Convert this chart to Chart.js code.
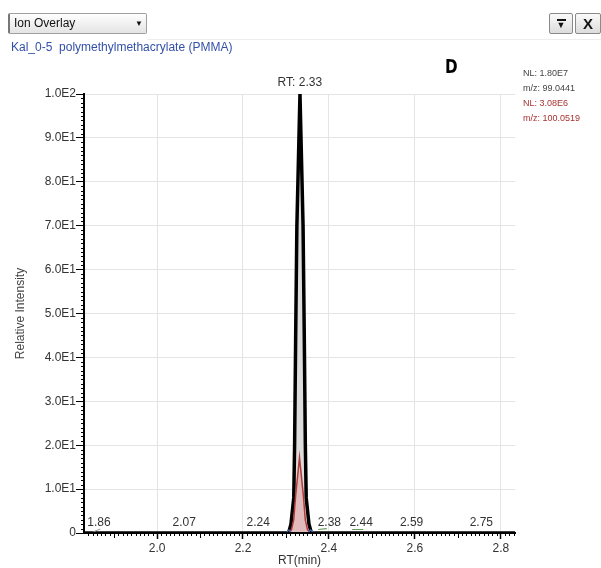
<!DOCTYPE html>
<html><head><meta charset="utf-8">
<script src="https://cdn.jsdelivr.net/npm/chart.js@4/dist/chart.umd.min.js"></script>
<style>
html,body{margin:0;padding:0;background:#fff;width:601px;height:568px;overflow:hidden;font-family:"Liberation Sans",Arial,sans-serif;}
#wrap{position:relative;width:601px;height:568px;}
#c{position:absolute;left:0;top:0;}
#dd{position:absolute;left:8px;top:13px;width:139px;height:21px;box-sizing:border-box;border:1px solid #a0a0a0;border-left:2px solid #777;border-radius:2px;background:linear-gradient(#fefefe,#e4e4e4);font-size:12px;line-height:19px;padding-left:4px;color:#111;}
#dd .arr{position:absolute;left:125px;top:0;font-size:8px;}
#sep{position:absolute;left:148px;top:39px;width:453px;height:1px;background:#eeeeee;}
#sub{position:absolute;left:11px;top:40px;font-size:12px;color:#3350a8;white-space:pre;}
.btn{position:absolute;top:13px;height:21px;box-sizing:border-box;border:1px solid #8a8a8a;border-radius:2px;background:linear-gradient(#fafafa,#dcdcdc);text-align:center;color:#111;}
#b1{left:549px;width:24px;}
#b2{left:575px;width:26px;font-weight:bold;font-size:15px;line-height:19px;}
#b1 .bar{position:absolute;left:7px;top:5px;width:9px;height:2px;background:#111;}
#b1 .tri{position:absolute;left:0;width:22px;top:6px;font-size:9px;line-height:10px;}
#D{position:absolute;left:445px;top:55px;font-family:"DejaVu Sans",sans-serif;font-weight:900;font-size:20px;line-height:22px;color:#000;transform:scaleX(0.76);transform-origin:0 0;}
.nl{position:absolute;left:523px;font-size:9px;line-height:11px;white-space:pre;}
</style></head><body>
<div id="wrap">
<canvas id="c" width="601" height="568"></canvas>
<div id="dd">Ion Overlay<span class="arr">▼</span></div>
<div id="sep"></div>
<div id="sub">Kal_0-5  polymethylmethacrylate (PMMA)</div>
<div class="btn" id="b1"><div class="bar"></div><div class="tri">▼</div></div>
<div class="btn" id="b2">X</div>
<div id="D">D</div>
<div class="nl" style="top:68px;color:#444;">NL: 1.80E7</div>
<div class="nl" style="top:83px;color:#444;">m/z: 99.0441</div>
<div class="nl" style="top:98px;color:#a83232;">NL: 3.08E6</div>
<div class="nl" style="top:113px;color:#a83232;">m/z: 100.0519</div>
</div>
<script>
// ---- data ----
const blackRT  = [1.830, 2.300, 2.306, 2.3116, 2.3181, 2.3201, 2.3226, 2.3254, 2.3326, 2.3398, 2.3426, 2.3451, 2.3471, 2.3536, 2.3593, 2.833];
const blackInt = [0,     0,     0,     2,      8,      20,     45,     70,     100,    70,     45,     20,     8,      2,      0,      0];
const redRT    = [2.300, 2.307, 2.313, 2.318, 2.3225, 2.3315, 2.3405, 2.345, 2.350, 2.356, 2.362];
const redInt   = [0,     0,     0.8,   3,     8.5,    17.2,   8.5,    3,     0.8,   0,     0];
const blueRT   = [2.302, 2.307, 2.312, null, 2.352, 2.357, 2.363];
const blueInt  = [0.2,   0.7,   0.2,   null, 0.2,   0.7,   0.2];
const greenRT  = [2.375, 2.395, null, 2.454, 2.480];
const greenInt = [0.8,   1.0,   null, 0.8,   0.8];
const grayRT   = [1.852, 1.868];
const grayInt  = [0.3,   0.9];
const xTickValues = [2.0, 2.2, 2.4, 2.6, 2.8];
const yTickValues = [0, 10, 20, 30, 40, 50, 60, 70, 80, 90, 100];
const peakLabelText = ['1.86', '2.07', '2.24', 'RT: 2.33', '2.38', '2.44', '2.59', '2.75'];
const peakLabelRT   = [1.86, 2.07, 2.24, 2.33, 2.38, 2.44, 2.59, 2.75];
const peakLabelInt  = [0, 0, 0, 100, 0, 0, 0, 0];
// label style offsets (pixels)
const peakLabelDx   = [2, -3, -2, 1, 9, 15, 1, 2];

const pts = (xs, ys) => xs.map((x, i) => ({x: x, y: ys[i]}));

Chart.defaults.font.family = '"Liberation Sans", Arial, sans-serif';
Chart.defaults.font.size = 12;
Chart.defaults.color = '#333';

const extras = {
  id: 'extras',
  afterDraw(chart) {
    const ctx = chart.ctx, xs = chart.scales.x, ys = chart.scales.y;
    const ca = chart.chartArea;
    ctx.save();
    ctx.strokeStyle = '#000';
    ctx.lineWidth = 1;
    for (let i = 184; i <= 283; i++) {
      const v = i / 100;
      if (i % 20 === 0) continue;
      const len = (i % 10 === 0) ? 5 : 3;
      const px = Math.round(xs.getPixelForValue(v)) + 0.5;
      ctx.beginPath(); ctx.moveTo(px, ca.bottom); ctx.lineTo(px, ca.bottom + len); ctx.stroke();
    }
    for (let v = 1; v < 100; v++) {
      if (v % 10 === 0) continue;
      const py = Math.round(ys.getPixelForValue(v)) + 0.5;
      ctx.beginPath(); ctx.moveTo(ca.left, py); ctx.lineTo(ca.left - 3, py); ctx.stroke();
    }
    ctx.fillStyle = '#333';
    ctx.font = '12px "Liberation Sans", Arial, sans-serif';
    ctx.textAlign = 'center';
    ctx.textBaseline = 'middle';
    peakLabelText.forEach((t, i) => {
      const px = xs.getPixelForValue(peakLabelRT[i]) + peakLabelDx[i];
      const py = ys.getPixelForValue(peakLabelInt[i]) - (peakLabelInt[i] > 0 ? 11 : 10);
      ctx.fillText(t, px, py);
    });
    ctx.restore();
  }
};

new Chart(document.getElementById('c'), {
  type: 'line',
  data: {
    datasets: [
      {order: 5, data: pts(blackRT, blackInt), borderColor: '#000', borderWidth: 3.5, backgroundColor: '#dcdcdc', fill: 'origin', tension: 0},
      {order: 4, data: pts(redRT, redInt), borderColor: '#b23a3a', borderWidth: 1.5, backgroundColor: 'rgba(230,160,160,0.55)', fill: 'origin', tension: 0},
      {order: 3, data: pts(blueRT, blueInt), borderColor: '#3a6fc0', borderWidth: 1.2, fill: false, spanGaps: false},
      {order: 2, data: pts(greenRT, greenInt), borderColor: '#6a9a5a', borderWidth: 1.2, fill: false, spanGaps: false},
      {order: 1, data: pts(grayRT, grayInt), borderColor: '#999', borderWidth: 1, fill: false}
    ]
  },
  options: {
    responsive: false,
    animation: false,
    layout: {padding: {top: 94, right: 86, left: 0, bottom: 0}},
    plugins: {legend: {display: false}, tooltip: {enabled: false}},
    elements: {point: {radius: 0}, line: {borderJoinStyle: 'miter'}},
    scales: {
      x: {
        type: 'linear', min: 1.83, max: 2.833,
        afterBuildTicks: s => { s.ticks = xTickValues.map(v => ({value: v})); },
        afterFit: s => { s.height = 35; },
        grid: {color: '#e4e4e4', lineWidth: 1, tickColor: '#000', tickLength: 6, tickWidth: 1.5},
        border: {color: '#000', width: 2, z: 1},
        ticks: {color: '#333', padding: 2, maxRotation: 0, autoSkip: false, callback: v => Number(v).toFixed(1), font: {size: 12}},
        title: {display: true, text: 'RT(min)', color: '#333', font: {size: 12}, padding: {top: 0, bottom: 0}}
      },
      y: {
        type: 'linear', min: 0, max: 100,
        afterBuildTicks: s => { s.ticks = yTickValues.map(v => ({value: v})); },
        afterFit: s => { s.width = 84; },
        grid: {color: '#e4e4e4', lineWidth: 1, tickColor: '#000', tickLength: 8, tickWidth: 1},
        border: {color: '#000', width: 2, z: 1},
        ticks: {color: '#333', padding: 0, autoSkip: false, font: {size: 12},
          callback: v => v === 0 ? '0' : Number(v).toExponential(1).toUpperCase().replace('+', '')},
        title: {display: true, text: 'Relative Intensity', color: '#444', font: {size: 12}, padding: {top: 13, bottom: 0}}
      }
    }
  },
  plugins: [extras]
});
</script>
</body></html>
